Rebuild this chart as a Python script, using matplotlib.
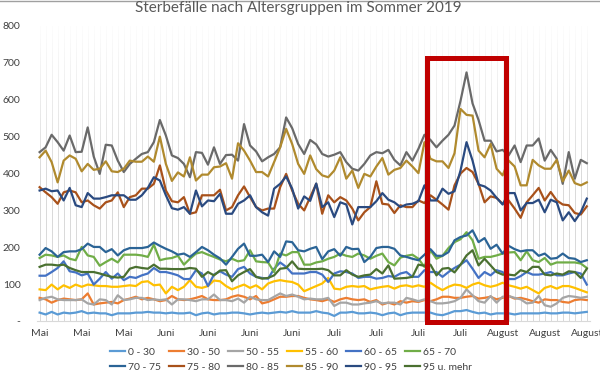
import matplotlib
matplotlib.use("Agg")
import matplotlib.pyplot as plt
from matplotlib.patches import Rectangle
import numpy as np
import pandas as pd

plt.rcParams['font.family'] = ['Lato', 'DejaVu Sans']

# daily deaths by age group, 16 May - 15 Aug 2019
start_date = '2019-05-16'
months_de = {5: 'Mai', 6: 'Juni', 7: 'Juli', 8: 'August'}

a0_30 = [23, 18, 25, 18, 23, 21, 23, 27, 21, 23, 21, 21, 16, 21, 21, 21, 23, 23, 25, 23, 23, 21, 23, 21, 21, 23, 16, 21, 23, 18, 21,
         21, 23, 23, 21, 18, 21, 23, 21, 23, 25, 23, 27, 23, 23, 23, 27, 23, 21, 14, 23, 23, 25, 21, 21, 23, 21, 16, 21, 23, 16,
         21, 23, 23, 23, 23, 18, 16, 21, 27, 27, 30, 25, 21, 23, 18, 21, 21, 21, 18, 21, 21, 21, 21, 23, 21, 21, 23, 23, 21, 23, 25]
a30_50 = [63, 59, 50, 57, 61, 59, 57, 59, 75, 45, 48, 50, 52, 48, 57, 61, 66, 59, 63, 59, 54, 57, 68, 59, 57, 59, 63, 68, 59, 57, 57,
          59, 66, 70, 66, 59, 68, 48, 52, 59, 66, 66, 68, 68, 63, 59, 57, 54, 59, 52, 59, 63, 59, 57, 59, 52, 57, 45, 50, 45, 54,
          50, 54, 52, 57, 54, 59, 66, 66, 63, 63, 66, 68, 61, 63, 66, 59, 63, 68, 61, 63, 59, 54, 50, 59, 57, 57, 52, 50, 57, 59, 57]
a50_55 = [57, 63, 66, 59, 57, 57, 57, 59, 48, 45, 59, 57, 45, 70, 57, 59, 63, 63, 57, 59, 57, 59, 45, 59, 59, 57, 54, 59, 59, 72, 57,
          57, 54, 61, 50, 66, 59, 57, 57, 66, 75, 68, 72, 66, 59, 61, 59, 59, 63, 41, 50, 50, 45, 45, 48, 50, 54, 48, 50, 50, 45,
          63, 59, 54, 59, 54, 48, 48, 50, 54, 63, 86, 70, 54, 50, 68, 50, 66, 68, 63, 59, 48, 50, 68, 43, 39, 48, 63, 68, 66, 63, 66]
a55_60 = [86, 84, 99, 86, 97, 90, 99, 93, 99, 97, 95, 95, 93, 93, 95, 97, 95, 106, 108, 97, 99, 75, 93, 84, 93, 111, 93, 90, 95, 110, 108,
          95, 86, 93, 99, 90, 97, 86, 102, 108, 111, 108, 106, 99, 81, 88, 95, 102, 117, 88, 86, 93, 95, 93, 95, 86, 90, 93, 95, 88, 95,
          97, 93, 97, 93, 104, 93, 84, 93, 99, 97, 90, 99, 104, 97, 93, 97, 104, 97, 93, 88, 93, 84, 75, 90, 95, 88, 95, 95, 90, 84, 78]
a60_65 = [123, 123, 133, 144, 162, 135, 132, 124, 129, 99, 115, 133, 115, 129, 111, 120, 117, 124, 129, 144, 133, 133, 129, 124, 114, 114, 138, 129, 95, 126, 135,
          126, 120, 141, 147, 129, 120, 117, 115, 142, 159, 147, 129, 129, 129, 133, 133, 126, 106, 129, 135, 133, 129, 117, 120, 120, 115, 117, 122, 120, 129,
          133, 120, 120, 138, 133, 133, 120, 133, 144, 153, 165, 142, 117, 133, 124, 138, 133, 114, 114, 122, 133, 126, 126, 129, 133, 124, 124, 129, 133, 129, 99]
a65_70 = [171, 180, 178, 174, 178, 169, 165, 201, 178, 174, 150, 160, 169, 159, 180, 180, 180, 178, 174, 207, 165, 169, 171, 177, 153, 169, 183, 187, 180, 174, 167,
          162, 169, 162, 165, 192, 162, 160, 159, 133, 183, 178, 187, 187, 153, 153, 159, 162, 169, 174, 183, 177, 174, 183, 178, 169, 177, 183, 160, 151, 172,
          177, 180, 169, 147, 192, 169, 177, 198, 214, 222, 241, 219, 169, 174, 174, 178, 183, 186, 187, 165, 189, 165, 160, 171, 153, 159, 159, 159, 159, 156, 144]
a70_75 = [180, 198, 189, 174, 187, 189, 189, 195, 210, 201, 201, 187, 195, 178, 192, 198, 198, 198, 201, 213, 204, 196, 189, 180, 183, 174, 187, 201, 192, 180, 170,
          153, 174, 196, 210, 177, 177, 180, 160, 189, 174, 216, 214, 192, 189, 196, 201, 168, 189, 195, 177, 201, 195, 196, 160, 174, 198, 201, 201, 196, 178,
          174, 169, 165, 180, 195, 177, 177, 187, 219, 228, 232, 246, 214, 225, 196, 207, 183, 204, 195, 189, 192, 192, 177, 183, 169, 171, 183, 171, 169, 160, 165]
a75_80 = [363, 349, 336, 318, 349, 354, 349, 322, 327, 314, 305, 322, 327, 349, 309, 336, 341, 359, 359, 372, 422, 354, 325, 322, 336, 291, 295, 341, 341, 341, 356,
          300, 309, 341, 365, 336, 309, 300, 305, 305, 363, 399, 354, 318, 300, 336, 372, 291, 341, 322, 336, 327, 305, 273, 295, 309, 379, 318, 316, 293, 314,
          309, 309, 327, 320, 341, 329, 316, 302, 368, 400, 415, 404, 372, 322, 338, 334, 318, 327, 305, 280, 322, 341, 361, 327, 350, 327, 316, 314, 293, 289, 311]
a80_85 = [458, 471, 505, 485, 462, 503, 458, 459, 525, 446, 399, 478, 476, 435, 404, 426, 440, 453, 458, 485, 545, 503, 449, 442, 426, 390, 458, 456, 424, 471, 426,
          450, 451, 435, 534, 476, 460, 433, 444, 453, 471, 552, 523, 480, 453, 491, 479, 453, 446, 451, 458, 431, 413, 408, 426, 449, 458, 455, 464, 437, 422,
          458, 435, 467, 505, 491, 471, 489, 505, 530, 597, 674, 590, 545, 489, 489, 460, 464, 449, 476, 431, 476, 476, 495, 435, 464, 440, 372, 458, 386, 437, 428]
a85_90 = [444, 462, 431, 376, 435, 449, 440, 406, 426, 410, 413, 433, 406, 404, 413, 435, 432, 432, 446, 432, 500, 426, 380, 403, 392, 444, 381, 397, 397, 417, 419,
          428, 386, 482, 462, 435, 404, 404, 392, 431, 471, 521, 480, 426, 399, 449, 412, 395, 390, 408, 444, 386, 408, 361, 399, 392, 419, 442, 397, 410, 415,
          435, 419, 401, 485, 440, 433, 433, 415, 455, 575, 559, 557, 462, 444, 480, 413, 395, 435, 419, 368, 368, 437, 422, 413, 413, 437, 379, 408, 374, 368, 376]
a90_95 = [354, 359, 352, 354, 327, 361, 314, 309, 347, 332, 332, 336, 341, 341, 341, 329, 329, 341, 361, 390, 381, 341, 306, 302, 309, 291, 354, 311, 327, 325, 345,
          291, 291, 318, 327, 341, 309, 295, 286, 359, 372, 392, 359, 305, 338, 326, 373, 309, 322, 282, 322, 316, 262, 309, 309, 309, 325, 347, 329, 322, 309,
          316, 318, 325, 368, 327, 327, 359, 345, 352, 408, 485, 435, 370, 365, 354, 334, 316, 347, 347, 300, 320, 320, 329, 295, 329, 322, 273, 295, 271, 295, 332]
a95_plus = [147, 153, 153, 151, 153, 144, 138, 133, 133, 133, 129, 124, 120, 118, 120, 142, 147, 144, 142, 153, 142, 142, 141, 141, 141, 144, 142, 120, 133, 124, 137,
            138, 108, 124, 133, 141, 120, 115, 117, 124, 142, 144, 162, 142, 141, 141, 141, 142, 138, 124, 124, 138, 126, 120, 124, 126, 141, 129, 151, 115, 116,
            117, 120, 153, 150, 153, 124, 142, 144, 132, 153, 178, 192, 151, 169, 151, 133, 126, 126, 124, 138, 133, 147, 147, 126, 124, 129, 126, 135, 133, 117, 142]

labels = ['0 - 30', '30 - 50', '50 - 55', '55 - 60', '60 - 65', '65 - 70',
          '70 - 75', '75 - 80', '80 - 85', '85 - 90', '90 - 95', '95 u. mehr']
series = [a0_30, a30_50, a50_55, a55_60, a60_65, a65_70,
          a70_75, a75_80, a80_85, a85_90, a90_95, a95_plus]
colors = ['#5B9BD5', '#ED7D31', '#A5A5A5', '#FFC000', '#4472C4', '#70AD47',
          '#2B6496', '#A8511A', '#6A6A6A', '#B08A2E', '#2A4A80', '#4A7030']

# highlighted heat-wave period (day index range, value range)
box_days = (64.4, 77.6)
box_vals = (-2, 712)

fig = plt.figure(figsize=(6, 3.76), dpi=100)
ax = fig.add_axes([0.062, 0.146, 0.921, 0.785])

n = len(a80_85)
dates = pd.date_range(start_date, periods=n, freq='D')
days = np.arange(n)

# daily vertical grid
for d in days:
    ax.axvline(d, color='#D9D9D9', lw=0.7, zorder=0.5)

# fade the grid towards the top
yy = np.linspace(0, 800, 200)[:, None]
alpha = np.clip((yy - 380) / 420, 0, 1) * 0.95
overlay = np.ones((200, 1, 4))
overlay[:, :, 3] = alpha
ax.imshow(overlay, extent=(-0.4, n - 0.5, 0, 800), origin='lower',
          aspect='auto', zorder=0.8, interpolation='bilinear')

handles = []
for vals, lab, c in zip(series, labels, colors):
    h, = ax.plot(np.arange(len(vals)), vals, color=c, lw=1.6, label=lab, zorder=2)
    handles.append(h)

ax.add_patch(Rectangle((box_days[0], box_vals[0]), box_days[1] - box_days[0],
                       box_vals[1] - box_vals[0], fill=False, edgecolor='#C00000',
                       lw=3.6, zorder=5, clip_on=False))

ax.set_xlim(-0.4, n - 0.5)
ax.set_ylim(0, 800)
ax.set_yticks(np.arange(0, 801, 100))
ax.set_yticklabels(['-' if v == 0 else str(v) for v in range(0, 801, 100)])
tick_idx = days[::7]
ax.set_xticks(tick_idx)
ax.set_xticklabels([months_de[dates[i].month] for i in tick_idx])
ax.tick_params(axis='both', length=0, labelsize=7.5, colors='#404040')
ax.tick_params(axis='y', pad=12)
ax.tick_params(axis='x', pad=6)
for s in ['top', 'right', 'left']:
    ax.spines[s].set_visible(False)
ax.spines['bottom'].set_color('#D9D9D9')

fig.text(0.497, 0.978, 'Sterbefälle nach Altersgruppen im Sommer 2019',
         ha='center', va='center', fontsize=11, color='#595959')
fig.add_artist(plt.Line2D([0, 1], [0.998, 0.998], color='#A0A0A0', lw=1))

order = [0, 6, 1, 7, 2, 8, 3, 9, 4, 10, 5, 11]
fig.legend([handles[i] for i in order], [labels[i] for i in order], ncol=6,
           loc='center', bbox_to_anchor=(0.485, 0.043), frameon=False,
           fontsize=7.5, handlelength=1.5, handletextpad=0.3,
           columnspacing=0.7, labelspacing=0.55, labelcolor='#404040')

fig.savefig('out.png', dpi=100)
